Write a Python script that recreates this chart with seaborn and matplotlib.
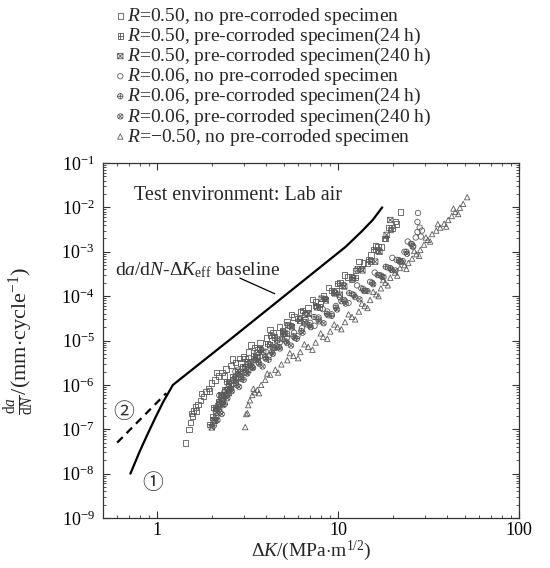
import matplotlib
matplotlib.use("Agg")
import numpy as np
import pandas as pd
import seaborn as sns
import matplotlib.pyplot as plt
from matplotlib.path import Path
from matplotlib import ticker

# ---------------- data ----------------
series_labels = [
    "$R$=0.50, no pre-corroded specimen",
    "$R$=0.50, pre-corroded specimen(24 h)",
    "$R$=0.50, pre-corroded specimen(240 h)",
    "$R$=0.06, no pre-corroded specimen",
    "$R$=0.06, pre-corroded specimen(24 h)",
    "$R$=0.06, pre-corroded specimen(240 h)",
    "$R$=\u22120.50, no pre-corroded specimen",
]

r050_none_dk = [1.43, 1.50, 1.52, 1.56, 1.58, 1.62, 1.68, 1.73, 1.80, 1.86, 1.92, 2.00, 2.08, 2.18,
                2.28, 2.40, 2.55, 2.70, 2.85, 3.00, 3.20, 3.45, 3.70, 4.00, 4.35, 4.75, 5.20, 5.70,
                6.20, 6.80, 7.50, 8.30, 9.20, 10.2, 11.3, 12.5, 13.8, 15.2, 16.6, 18.0, 19.5, 20.8, 22.0,
                1.55, 1.65, 1.76, 1.95, 2.12, 2.35, 2.60, 2.90, 3.30, 3.60, 4.20, 4.90, 5.50, 6.50,
                7.20, 8.00, 8.80, 9.80, 10.8, 11.8, 13.0, 14.5, 16.0, 17.4, 19.0, 21.0]
r050_none_dadn = [4.9e-8, 1.0e-7, 1.4e-7, 2.0e-7, 2.6e-7, 3.2e-7, 3.6e-7, 4.4e-7, 5.5e-7, 7.0e-7,
                  8.2e-7, 1.1e-6, 1.3e-6, 1.6e-6, 1.9e-6, 2.3e-6, 2.7e-6, 3.2e-6, 3.9e-6, 4.4e-6,
                  5.5e-6, 7.0e-6, 9.0e-6, 1.15e-5, 1.5e-5, 2.0e-5, 2.6e-5, 3.4e-5, 4.4e-5, 5.6e-5,
                  7.5e-5, 1.0e-4, 1.35e-4, 2.0e-4, 2.7e-4, 3.8e-4, 5.6e-4, 8.5e-4, 1.3e-3, 2.0e-3,
                  3.2e-3, 4.8e-3, 7.9e-3,
                  2.3e-7, 2.6e-7, 6.5e-7, 7.3e-7, 1.9e-6, 1.6e-6, 3.8e-6, 3.1e-6, 7.9e-6, 6.2e-6,
                  1.75e-5, 1.7e-5, 3.9e-5, 3.9e-5, 8.5e-5, 6.9e-5, 1.55e-4, 1.3e-4, 3.0e-4, 2.4e-4,
                  6.0e-4, 5.4e-4, 1.4e-3, 1.27e-3, 3.5e-3, 4.2e-3]

r050_24h_dk = [1.95, 2.02, 2.10, 2.18, 2.26, 2.36, 2.48, 2.62, 2.78, 2.95, 3.15, 3.40, 3.70, 4.05,
               4.45, 4.90, 5.40, 6.00, 6.70, 7.50, 8.40, 9.40, 10.5, 11.8, 13.2, 14.8, 16.5, 18.3, 19.8,
               2.06, 2.22, 2.42, 2.70, 3.05, 3.55, 4.25, 5.15, 6.35, 7.90, 9.90, 12.4, 15.6]
r050_24h_dadn = [1.3e-7, 1.9e-7, 3.0e-7, 4.2e-7, 5.8e-7, 8.0e-7, 1.1e-6, 1.5e-6, 2.0e-6, 2.6e-6,
                 3.4e-6, 4.5e-6, 6.2e-6, 8.5e-6, 1.2e-5, 1.6e-5, 2.2e-5, 3.1e-5, 4.3e-5, 6.2e-5,
                 8.8e-5, 1.25e-4, 1.8e-4, 2.7e-4, 4.2e-4, 6.8e-4, 1.1e-3, 2.0e-3, 3.4e-3,
                 3.1e-7, 3.8e-7, 1.2e-6, 1.35e-6, 3.9e-6, 4.1e-6, 1.3e-5, 1.45e-5, 4.8e-5, 5.7e-5,
                 1.95e-4, 2.6e-4, 1.13e-3]

r050_240h_dk = [2.00, 2.05, 2.12, 2.20, 2.30, 2.42, 2.55, 2.70, 2.88, 3.08, 3.30, 3.55, 3.85, 4.20,
                4.60, 5.05, 5.55, 6.15, 6.85, 7.65, 8.55, 9.60, 10.8, 12.1, 13.6, 15.2, 16.9, 18.5, 19.4,
                2.08, 2.25, 2.48, 2.79, 3.18, 3.70, 4.40, 5.30, 6.50, 8.10, 10.2, 12.8, 16.0]
r050_240h_dadn = [1.1e-7, 1.6e-7, 2.4e-7, 3.8e-7, 5.2e-7, 7.5e-7, 1.0e-6, 1.4e-6, 1.9e-6, 2.5e-6,
                  3.2e-6, 4.2e-6, 5.6e-6, 7.8e-6, 1.05e-5, 1.45e-5, 2.0e-5, 2.8e-5, 4.0e-5, 5.6e-5,
                  8.0e-5, 1.15e-4, 1.65e-4, 2.5e-4, 3.8e-4, 6.0e-4, 1.0e-3, 2.4e-3, 5.2e-3,
                  1.55e-7, 5.9e-7, 6.5e-7, 2.1e-6, 2.15e-6, 6.4e-6, 6.9e-6, 2.2e-5, 2.6e-5, 8.8e-5,
                  1.08e-4, 4.0e-4, 6.0e-4]

r006_none_dk = [2.10, 2.16, 2.25, 2.35, 2.48, 2.62, 2.78, 2.96, 3.18, 3.42, 3.70, 4.00, 4.35, 4.75,
                5.20, 5.70, 6.30, 7.00, 7.80, 8.70, 9.70, 10.8, 12.0, 13.4, 15.0, 16.8, 18.8, 21.0,
                23.2, 25.2, 26.8, 27.4, 28.2, 29.0, 27.6, 27.4,
                2.20, 2.40, 2.70, 3.05, 3.55, 4.15, 4.95, 5.95, 6.60, 7.40, 8.20, 9.20, 10.2, 11.4,
                12.7, 14.2, 15.9, 17.8, 19.9, 22.1, 24.2, 26.0, 28.6]
r006_none_dadn = [2.6e-7, 3.5e-7, 5.0e-7, 7.0e-7, 9.5e-7, 1.3e-6, 1.75e-6, 2.3e-6, 2.9e-6, 3.6e-6,
                  4.4e-6, 5.5e-6, 7.0e-6, 9.0e-6, 1.15e-5, 1.5e-5, 1.9e-5, 2.5e-5, 3.3e-5, 4.5e-5,
                  6.0e-5, 8.2e-5, 1.1e-4, 1.5e-4, 2.1e-4, 3.0e-4, 4.4e-4, 6.6e-4, 1.0e-3, 1.5e-3,
                  2.1e-3, 2.8e-3, 3.5e-3, 3.0e-3, 7.5e-3, 4.7e-3,
                  5.8e-7, 5.9e-7, 2.0e-6, 1.85e-6, 5.4e-6, 4.6e-6, 1.35e-5, 1.26e-5, 3.0e-5, 2.15e-5,
                  5.1e-5, 3.9e-5, 9.5e-5, 7.0e-5, 1.75e-4, 1.33e-4, 3.4e-4, 2.7e-4, 7.3e-4, 6.1e-4,
                  1.7e-3, 1.33e-3, 2.2e-3]

r006_24h_dk = [2.05, 2.12, 2.20, 2.30, 2.42, 2.56, 2.72, 2.90, 3.10, 3.35, 3.62, 3.95, 4.30, 4.70,
               5.15, 5.65, 6.25, 6.95, 7.75, 8.65, 9.70, 10.9, 12.2, 13.7, 15.4, 17.3, 19.4, 21.6,
               23.8, 25.5,
               2.16, 2.36, 2.64, 3.00, 3.48, 4.12, 4.92, 5.90, 7.35, 9.20, 11.5, 14.5, 18.3, 22.7]
r006_24h_dadn = [1.2e-7, 1.8e-7, 2.8e-7, 4.0e-7, 5.6e-7, 8.0e-7, 1.1e-6, 1.5e-6, 1.9e-6, 2.5e-6,
                 3.2e-6, 4.2e-6, 5.4e-6, 7.2e-6, 9.5e-6, 1.25e-5, 1.65e-5, 2.2e-5, 3.0e-5, 4.0e-5,
                 5.5e-5, 7.6e-5, 1.05e-4, 1.45e-4, 2.0e-4, 2.9e-4, 4.3e-4, 6.5e-4, 1.0e-3, 1.5e-3,
                 3.0e-7, 3.7e-7, 1.25e-6, 1.3e-6, 3.7e-6, 3.7e-6, 1.08e-5, 1.1e-5, 3.4e-5, 3.6e-5,
                 1.17e-4, 1.3e-4, 4.6e-4, 6.2e-4]

r006_240h_dk = [2.15, 2.22, 2.32, 2.44, 2.58, 2.74, 2.92, 3.14, 3.38, 3.66, 3.98, 4.35, 4.76, 5.22,
                5.75, 6.35, 7.05, 7.85, 8.80, 9.85, 11.0, 12.4, 13.9, 15.6, 17.5, 19.6, 21.8, 24.0, 25.8,
                2.27, 2.51, 2.83, 3.26, 3.82, 4.55, 5.48, 6.70, 8.30, 10.4, 13.1, 16.5, 20.7]
r006_240h_dadn = [1.6e-7, 2.4e-7, 3.5e-7, 5.0e-7, 7.2e-7, 1.0e-6, 1.35e-6, 1.8e-6, 2.4e-6, 3.0e-6,
                  3.9e-6, 5.0e-6, 6.6e-6, 8.8e-6, 1.15e-5, 1.5e-5, 2.0e-5, 2.7e-5, 3.7e-5, 5.0e-5,
                  6.8e-5, 9.5e-5, 1.3e-4, 1.85e-4, 2.7e-4, 4.0e-4, 6.0e-4, 9.0e-4, 1.3e-3,
                  2.2e-7, 7.8e-7, 9.0e-7, 2.7e-6, 2.6e-6, 7.5e-6, 7.7e-6, 2.3e-5, 2.45e-5, 7.7e-5,
                  8.5e-5, 3.0e-4, 3.8e-4]

rm050_none_dk = [3.06, 3.10, 3.18, 3.25, 3.35, 3.45, 3.57, 3.75, 3.95, 4.20, 4.49, 4.85, 5.23, 5.65,
                 6.17, 6.82, 7.50, 8.25, 9.03, 9.90, 10.9, 11.9, 13.0, 14.0, 15.0, 16.2, 17.2, 18.2,
                 19.4, 20.6, 21.9, 23.2, 24.4, 25.6, 27.0, 28.4, 29.8, 31.3, 33.0, 34.8, 36.6, 38.5,
                 40.5, 42.4, 44.4, 47.0, 49.0, 51.6,
                 3.15, 3.40, 3.65, 4.05, 4.65, 5.40, 6.00, 6.50, 7.20, 8.00, 8.70, 9.50, 10.4, 11.4,
                 12.4, 13.5, 14.5, 15.6, 16.7, 17.7, 18.8, 20.0, 21.2, 22.5, 23.8, 26.3, 28.0, 30.5,
                 32.2, 35.5, 39.5, 43.3, 46.0]
rm050_none_dadn = [1.12e-7, 2.2e-7, 3.5e-7, 4.5e-7, 5.9e-7, 6.8e-7, 7.7e-7, 1.0e-6, 1.3e-6, 1.7e-6,
                   2.2e-6, 2.9e-6, 3.6e-6, 4.5e-6, 5.5e-6, 7.2e-6, 9.0e-6, 1.2e-5, 1.6e-5, 2.0e-5,
                   2.6e-5, 3.4e-5, 4.5e-5, 6.0e-5, 8.2e-5, 1.1e-4, 1.5e-4, 2.0e-4, 2.6e-4, 3.4e-4,
                   4.3e-4, 5.0e-4, 5.6e-4, 7.0e-4, 8.8e-4, 1.1e-3, 1.45e-3, 1.85e-3, 2.5e-3, 3.0e-3,
                   3.5e-3, 4.3e-3, 5.2e-3, 6.4e-3, 7.9e-3, 9.8e-3, 1.2e-2, 1.7e-2,
                   2.3e-7, 8.2e-7, 6.5e-7, 1.8e-6, 1.9e-6, 5.2e-6, 4.0e-6, 8.2e-6, 6.2e-6, 1.45e-5,
                   1.1e-5, 2.3e-5, 1.8e-5, 3.9e-5, 3.0e-5, 6.8e-5, 5.4e-5, 1.25e-4, 1.0e-4, 2.3e-4,
                   1.75e-4, 3.9e-4, 2.9e-4, 6.0e-4, 4.1e-4, 1.04e-3, 8.1e-4, 2.1e-3, 1.7e-3, 4.2e-3,
                   3.7e-3, 9.4e-3, 7.1e-3]

# baseline da/dN - dK_eff (solid) and branch (dashed)
baseline_dk = [0.71, 0.80, 0.88, 0.98, 1.08, 1.22, 2.6, 11.0, 13.5, 15.5, 17.5]
baseline_dadn = [1.0e-8, 3.2e-8, 7.5e-8, 1.9e-7, 4.2e-7, 1.0e-6, 1.16e-5, 1.3e-3, 2.9e-3, 5.2e-3, 1.0e-2]
branch_dk = [0.60, 1.12]
branch_dadn = [5.0e-8, 6.5e-7]

x_ticks = [1, 10, 100]
x_tick_labels = ["1", "10", "100"]
y_ticks = [1e-9, 1e-8, 1e-7, 1e-6, 1e-5, 1e-4, 1e-3, 1e-2, 1e-1]

# ---------------- assemble ----------------
all_dk = [r050_none_dk, r050_24h_dk, r050_240h_dk, r006_none_dk, r006_24h_dk, r006_240h_dk, rm050_none_dk]
all_dadn = [r050_none_dadn, r050_24h_dadn, r050_240h_dadn, r006_none_dadn, r006_24h_dadn,
            r006_240h_dadn, rm050_none_dadn]
frames = []
for lab, dk, dadn in zip(series_labels, all_dk, all_dadn):
    frames.append(pd.DataFrame({"dK": dk, "dadN": dadn, "series": lab}))
df = pd.concat(frames, ignore_index=True)

# custom markers
M, L, C = Path.MOVETO, Path.LINETO, Path.CLOSEPOLY
sq_v = [(-1, -1), (1, -1), (1, 1), (-1, 1), (-1, -1)]
sq_c = [M, L, L, L, C]
sq_plus = Path(sq_v + [(-1, 0), (1, 0), (0, -1), (0, 1)], sq_c + [M, L, M, L])
sq_x = Path(sq_v + [(-1, -1), (1, 1), (-1, 1), (1, -1)], sq_c + [M, L, M, L])
circ = Path.unit_circle()
c_plus = Path.make_compound_path(circ, Path([(-1, 0), (1, 0)], [M, L]), Path([(0, -1), (0, 1)], [M, L]))
r = 0.7071
c_x = Path.make_compound_path(circ, Path([(-r, -r), (r, r)], [M, L]), Path([(-r, r), (r, -r)], [M, L]))
markers = ["s", sq_plus, sq_x, "o", c_plus, c_x, "^"]

# ---------------- style ----------------
sns.set_theme(style="ticks")
plt.rcParams.update({
    "font.family": ["Liberation Serif", "DejaVu Serif"],
    "mathtext.fontset": "custom",
    "mathtext.rm": "Liberation Serif",
    "mathtext.it": "Liberation Serif:italic",
    "mathtext.bf": "Liberation Serif:bold",
    "axes.unicode_minus": True,
    "xtick.direction": "in",
    "ytick.direction": "in",
    "xtick.top": True,
    "ytick.right": True,
    "axes.edgecolor": "#333333",
    "axes.linewidth": 0.9,
    "xtick.color": "#333333",
    "ytick.color": "#333333",
    "xtick.labelcolor": "black",
    "ytick.labelcolor": "black",
})

fig = plt.figure(figsize=(5.5, 5.68), dpi=100)
ax = fig.add_axes([0.187, 0.088, 0.757, 0.625])

edge = "#5a5a5a"
for lab, mk in zip(series_labels, markers):
    sub = df[df["series"] == lab]
    sns.scatterplot(data=sub, x="dK", y="dadN", marker=mk, s=15, facecolor="none",
                    edgecolor=edge, linewidth=0.6, label=lab, ax=ax, zorder=3)

sns.lineplot(x=baseline_dk, y=baseline_dadn, color="black", lw=1.6, sort=False, ax=ax,
             estimator=None, legend=False)
sns.lineplot(x=branch_dk, y=branch_dadn, color="black", lw=1.6, sort=False, ax=ax,
             estimator=None, legend=False, linestyle=(0, (3.5, 2.5)))

ax.set_xscale("log")
ax.set_yscale("log")
ax.set_xlim(0.5, 100)
ax.set_ylim(1e-9, 1e-1)

ax.xaxis.set_major_locator(ticker.FixedLocator(x_ticks))
ax.xaxis.set_major_formatter(ticker.FixedFormatter(x_tick_labels))
ax.xaxis.set_minor_locator(ticker.LogLocator(base=10, subs=np.arange(2, 10), numticks=50))
ax.xaxis.set_minor_formatter(ticker.NullFormatter())
ax.yaxis.set_major_locator(ticker.FixedLocator(y_ticks))
ax.yaxis.set_major_formatter(ticker.LogFormatterSciNotation())
ax.yaxis.set_minor_locator(ticker.LogLocator(base=10, subs=np.arange(2, 10), numticks=50))
ax.yaxis.set_minor_formatter(ticker.NullFormatter())
ax.tick_params(which="major", length=5, width=0.8, labelsize=13, pad=6)
ax.tick_params(which="minor", length=2.5, width=0.6)
ax.tick_params(axis="x", which="major", pad=3)

ax.set_xlabel(r"$\Delta K$/(MPa$\cdot$m$^{1/2}$)", fontsize=14)
ax.xaxis.set_label_coords(0.5, -0.059)
ax.set_ylabel(r"$\frac{\mathrm{d}a}{\mathrm{d}N}$/(mm$\cdot$cycle$^{-1}$)", fontsize=16)
ax.yaxis.set_label_coords(-0.158, 0.5)

ax.text(0.74, 1.9e-2, "Test environment: Lab air", fontsize=14.5, ha="left", va="center")
ax.text(0.586, 3.9e-4, r"d$a$/d$N$-$\Delta K_{\rm eff}$ baseline", fontsize=14, ha="left", va="center")
ax.annotate("", xy=(4.6, 1.07e-4), xytext=(2.77, 2.7e-4),
            arrowprops=dict(arrowstyle="-", lw=0.9, color="black"))
ax.text(0.649, 2.5e-7, "\u2461", fontsize=15, ha="center", va="center",
        family=["Noto Sans CJK SC", "DejaVu Sans"], color="#333333")
ax.text(0.94, 6.3e-9, "\u2460", fontsize=15, ha="center", va="center",
        family=["Noto Sans CJK SC", "DejaVu Sans"], color="#333333")

handles, labels = ax.get_legend_handles_labels()
if ax.get_legend() is not None:
    ax.get_legend().remove()
fig.legend(handles, labels, loc="upper left", bbox_to_anchor=(0.209, 0.9895), frameon=False,
           fontsize=14, handlelength=0.55, handletextpad=0.05, labelspacing=-0.05,
           borderpad=0, borderaxespad=0, markerscale=1.0)

sns.despine(ax=ax, top=False, right=False)
fig.savefig("out.png", dpi=100)
